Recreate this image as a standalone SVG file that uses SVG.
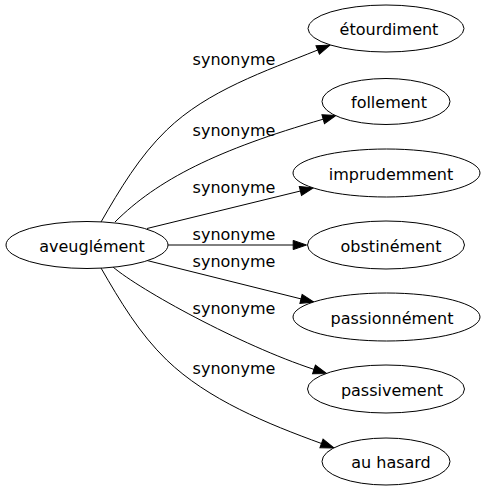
<svg xmlns="http://www.w3.org/2000/svg" width="485" height="491" viewBox="0 0 485 491">
<style>
.n ellipse{fill:#fff;stroke:#000;stroke-width:1}
.n text{font-family:"DejaVu Sans",sans-serif;font-size:16px;fill:#000;text-anchor:middle}
.e path{fill:none;stroke:#000;stroke-width:1}
.e text{font-family:"DejaVu Sans",sans-serif;font-size:16px;fill:#000;text-anchor:middle}
</style>
<defs>
<marker id="ah" markerUnits="userSpaceOnUse" markerWidth="16" markerHeight="12" refX="0" refY="0" viewBox="0 -6 16 12" orient="auto" overflow="visible">
<path d="M0,-4.6 L13.3,0 L0,4.6 Z" fill="#000" stroke="#000" stroke-width="1"/>
</marker>
</defs>
<rect width="485" height="491" fill="#fff"/>
<g id="edges" class="e">
<path d="M101,222 C120,189 139.4,156.4 166.7,130 C207.7,90.4 264.9,71.4 317.7,50" marker-end="url(#ah)"/>
<text x="234" y="65">synonyme</text>
<path d="M115,222 C157.4,179.6 217.5,149.6 323.2,119.2" marker-end="url(#ah)"/>
<text x="234" y="136">synonyme</text>
<path d="M147,228.5 L300.4,191" marker-end="url(#ah)"/>
<text x="234" y="193">synonyme</text>
<path d="M168,245 L293.2,245" marker-end="url(#ah)"/>
<text x="234" y="240">synonyme</text>
<path d="M147,260.5 L301,298.9" marker-end="url(#ah)"/>
<text x="234" y="267">synonyme</text>
<path d="M113,267 C140,290 240,345 314,369.4" marker-end="url(#ah)"/>
<text x="234" y="314">synonyme</text>
<path d="M101,268 C120,301 139.4,333.6 166.7,360 C207.7,399.6 267.9,424 321.5,443.5" marker-end="url(#ah)"/>
<text x="234" y="374">synonyme</text>
</g>
<g id="node-aveuglement" class="n">
<ellipse cx="87" cy="245" rx="81" ry="23.5"/>
<text x="92" y="251.5">aveuglément</text>
</g>
<g id="node-etourdiment" class="n">
<ellipse cx="386" cy="28.5" rx="78" ry="23.5"/>
<text x="389" y="35">étourdiment</text>
</g>
<g id="node-follement" class="n">
<ellipse cx="386" cy="101.5" rx="64" ry="23"/>
<text x="389" y="108">follement</text>
</g>
<g id="node-imprudemment" class="n">
<ellipse cx="386.5" cy="173" rx="93.5" ry="24"/>
<text x="391" y="179.5">imprudemment</text>
</g>
<g id="node-obstinement" class="n">
<ellipse cx="386" cy="245" rx="78.5" ry="24"/>
<text x="391" y="251.5">obstinément</text>
</g>
<g id="node-passionnement" class="n">
<ellipse cx="386.5" cy="317" rx="93.5" ry="24"/>
<text x="392" y="323.5">passionnément</text>
</g>
<g id="node-passivement" class="n">
<ellipse cx="386" cy="389" rx="78.5" ry="24"/>
<text x="392" y="395.5">passivement</text>
</g>
<g id="node-au-hasard" class="n">
<ellipse cx="386" cy="461.5" rx="64" ry="23.5"/>
<text x="391" y="468">au hasard</text>
</g>
</svg>
